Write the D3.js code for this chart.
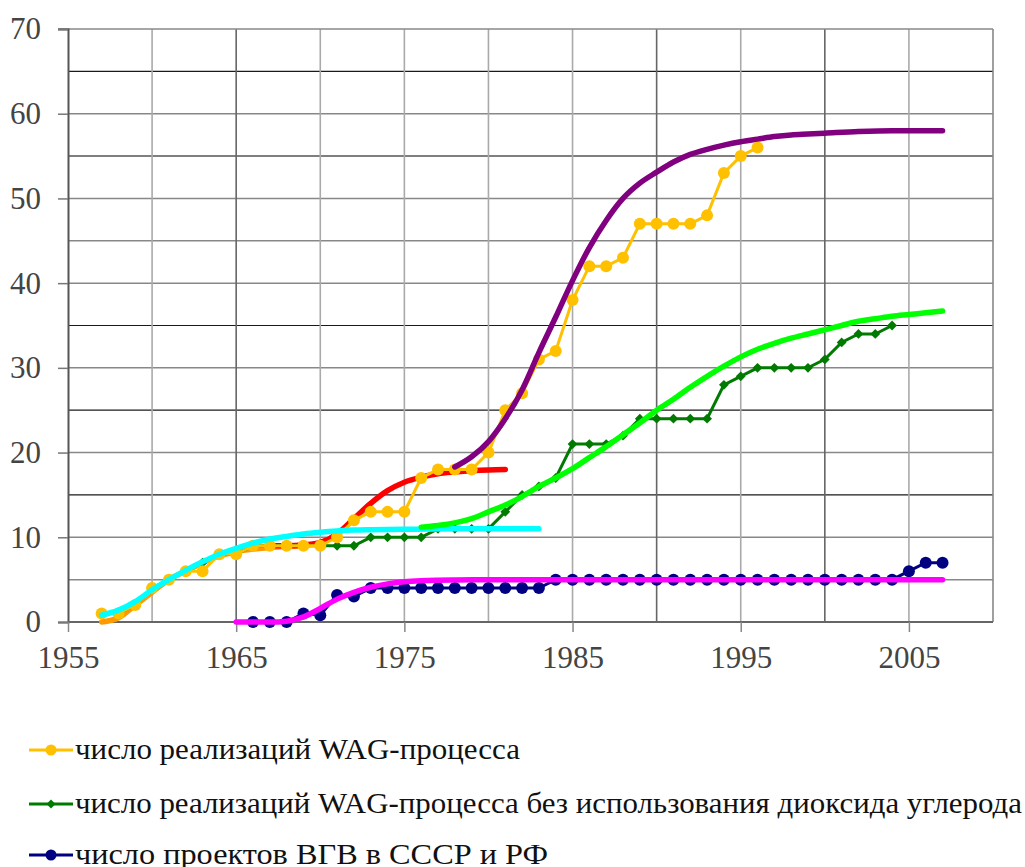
<!DOCTYPE html>
<html>
<head>
<meta charset="utf-8">
<script src="https://cdn.jsdelivr.net/npm/d3@7"></script>
<style>
  body { margin: 0; background: #fff; }
  svg text { font-family: "Liberation Serif", "Times New Roman", Times, "DejaVu Serif", "Noto Serif", serif; }
</style>
</head>
<body>
<div id="chart"></div>
<script>
// series values
const wagYears = d3.range(1957, 1997)
const wagValues = [1, 1, 2, 4, 5, 6, 6, 8, 8, 9, 9, 9, 9, 9, 10, 12, 13, 13, 13, 17,
  18, 18, 18, 20, 25, 27, 31, 32, 38, 42, 42, 43, 47, 47, 47, 47, 48, 53, 55, 56]

const noCo2Years = d3.range(1957, 2005)
const noCo2Values = [1, 1, 2, 4, 5, 6, 7, 8, 8, 9, 9, 9, 9, 9, 9, 9, 10, 10, 10, 10,
  11, 11, 11, 11, 13, 15, 16, 17, 21, 21, 21, 22, 24, 24, 24, 24, 24, 28, 29, 30,
  30, 30, 30, 31, 33, 34, 34, 35]

const vgvYears = d3.range(1966, 2008)
const vgvValues = [0, 0, 0, 1, 0.8, 3.2, 3, 4, 4, 4, 4, 4, 4, 4, 4, 4, 4, 4, 5, 5,
  5, 5, 5, 5, 5, 5, 5, 5, 5, 5, 5, 5, 5, 5, 5, 5, 5, 5, 5, 6, 7, 7]

// fitted curves (read as points, drawn smooth)
const orangeFit = [[1957, 0], [1958, 0.5], [1959, 2], [1960, 3.5], [1961, 5], [1962, 6],
  [1963, 7], [1964, 7.8], [1965, 8.3], [1966, 8.6], [1967, 8.8], [1968, 8.9], [1969, 9]]
const cyanFit = [[1957, 0.8], [1958, 1.4], [1959, 2.4], [1960, 3.8], [1961, 5], [1962, 6.1],
  [1963, 7.1], [1964, 8], [1965, 8.7], [1966, 9.3], [1967, 9.8], [1968, 10.1], [1969, 10.4],
  [1970, 10.6], [1971, 10.75], [1972, 10.85], [1973, 10.9], [1975, 10.95], [1978, 11], [1983, 11]]
const redFit = [[1967, 9], [1968, 9], [1969, 9.1], [1970, 9.4], [1971, 10.4], [1972, 12.2],
  [1973, 14], [1974, 15.5], [1975, 16.5], [1976, 17.1], [1977, 17.5], [1978, 17.7],
  [1979, 17.85], [1980, 17.95], [1981, 18]]
const purpleFit = [[1978, 18.3], [1979, 19.5], [1980, 21.3], [1981, 24], [1982, 27.4],
  [1983, 31.8], [1984, 36], [1985, 40.3], [1986, 44.2], [1987, 47.4], [1988, 50], [1989, 51.8],
  [1990, 53.1], [1991, 54.3], [1992, 55.2], [1993, 55.8], [1994, 56.3], [1995, 56.7],
  [1996, 57], [1997, 57.3], [1998, 57.5], [1999, 57.6], [2000, 57.7], [2002, 57.9],
  [2004, 58], [2007, 58]]
const greenFit = [[1976, 11.2], [1977, 11.4], [1978, 11.7], [1979, 12.2], [1980, 13],
  [1981, 13.8], [1982, 14.8], [1983, 16], [1984, 17], [1985, 18.1], [1986, 19.4], [1987, 20.7],
  [1988, 22.1], [1989, 23.5], [1990, 25], [1991, 26.3], [1992, 27.7], [1993, 29], [1994, 30.2],
  [1995, 31.3], [1996, 32.2], [1997, 32.9], [1998, 33.5], [1999, 34], [2000, 34.5], [2001, 35],
  [2002, 35.5], [2003, 35.8], [2004, 36.1], [2005, 36.3], [2006, 36.5], [2007, 36.7]]
const magentaFit = [[1965, 0], [1966, 0], [1967, 0], [1968, 0.1], [1969, 0.6], [1970, 1.6],
  [1971, 2.7], [1972, 3.5], [1973, 4.1], [1974, 4.5], [1975, 4.75], [1976, 4.88],
  [1977, 4.94], [1978, 4.97], [1980, 5], [2007, 5]]

const xTicks = [1955, 1965, 1975, 1985, 1995, 2005]
const yTicks = [0, 10, 20, 30, 40, 50, 60, 70]
const legendLabels = [
  'число реализаций WAG-процесса',
  'число реализаций WAG-процесса без использования диоксида углерода',
  'число проектов ВГВ в СССР и РФ',
]

const width = 1025
const height = 867
const serif = '"Liberation Serif", "Times New Roman", Times, "DejaVu Serif", serif'
const svg = d3.select('#chart').append('svg').attr('width', width).attr('height', height)

const x = d3.scaleLinear().domain([1955, 2010]).range([68, 993])
const y = d3.scaleLinear().domain([0, 70]).range([622, 29])

// grid
const hGrid = d3.range(5, 70, 5)
svg.append('g')
  .selectAll('line')
  .data(hGrid)
  .join('line')
  .attr('x1', x(1955))
  .attr('x2', x(2010))
  .attr('y1', (d) => y(d))
  .attr('y2', (d) => y(d))
  .attr('stroke', (d) => ([15, 25, 35, 65].includes(d) ? '#1a1a1a' : d === 55 ? '#555' : '#888'))
  .attr('stroke-width', (d) => ([15, 25, 35, 65].includes(d) ? 1.2 : 1.5))

const vGrid = d3.range(1960, 2011, 5)
svg.append('g')
  .selectAll('line')
  .data(vGrid)
  .join('line')
  .attr('x1', (d) => x(d))
  .attr('x2', (d) => x(d))
  .attr('y1', y(0))
  .attr('y2', y(70))
  .attr('stroke', (d) => ([1965, 1990, 2000].includes(d) ? '#666' : d === 2010 ? '#888' : '#aaa'))
  .attr('stroke-width', 1.6)

// top border (70 line with tick)
svg.append('line')
  .attr('x1', 58).attr('x2', x(2010))
  .attr('y1', y(70)).attr('y2', y(70))
  .attr('stroke', '#888').attr('stroke-width', 1.5)

// axes
const yAxis = svg.append('g')
  .attr('transform', `translate(${x(1955)},0)`)
  .call(d3.axisLeft(y).tickValues(yTicks).tickSize(10).tickPadding(17))
yAxis.select('.domain').attr('stroke', '#555').attr('stroke-width', 2)
yAxis.selectAll('.tick line').attr('stroke', '#777').attr('stroke-width', 1.5)
yAxis.selectAll('.tick text')
  .attr('font-size', 31)
  .attr('fill', '#444')
  .style('font-family', serif)

const xAxis = svg.append('g')
  .attr('transform', `translate(0,${y(0)})`)
  .call(d3.axisBottom(x).tickValues(xTicks).tickFormat(d3.format('d')).tickSize(10).tickPadding(14))
xAxis.select('.domain').attr('stroke', '#666').attr('stroke-width', 2).attr('d', `M${x(1955)},0H${x(2010)}`)
xAxis.selectAll('.tick line').attr('stroke', '#888').attr('stroke-width', 1.5)
xAxis.selectAll('.tick text')
  .attr('font-size', 31)
  .attr('fill', '#444')
  .style('font-family', serif)

const smooth = d3.line().x((d) => x(d[0])).y((d) => y(d[1])).curve(d3.curveMonotoneX)
const straight = d3.line().x((d) => x(d[0])).y((d) => y(d[1]))

function drawFit(data, color) {
  svg.append('path')
    .datum(data)
    .attr('d', smooth)
    .attr('fill', 'none')
    .attr('stroke', color)
    .attr('stroke-width', 5.5)
    .attr('stroke-linecap', 'round')
}

function drawSeries(years, values, color, marker) {
  const pts = years.map((yr, i) => [yr, values[i]])
  const g = svg.append('g')
  g.append('path')
    .datum(pts)
    .attr('d', straight)
    .attr('fill', 'none')
    .attr('stroke', color)
    .attr('stroke-width', 3)
  if (marker === 'circle') {
    g.selectAll('circle')
      .data(pts)
      .join('circle')
      .attr('cx', (d) => x(d[0]))
      .attr('cy', (d) => y(d[1]))
      .attr('r', 6)
      .attr('fill', color)
  } else {
    g.selectAll('path.m')
      .data(pts)
      .join('path')
      .attr('class', 'm')
      .attr('d', d3.symbol(d3.symbolSquare, 48))
      .attr('transform', (d) => `translate(${x(d[0])},${y(d[1])}) rotate(45)`)
      .attr('fill', color)
  }
}

drawFit(orangeFit, '#FF9900')
drawFit(redFit, '#FF0000')
drawSeries(noCo2Years, noCo2Values, '#007A00', 'diamond')
drawSeries(vgvYears, vgvValues, '#000080', 'circle')
drawSeries(wagYears, wagValues, '#FFC000', 'circle')
drawFit(cyanFit, '#00FFFF')
drawFit(purpleFit, '#800080')
drawFit(greenFit, '#00FF00')
drawFit(magentaFit, '#FF00FF')

// legend
const legendColors = ['#FFC000', '#007A00', '#000080']
const legendMarkers = ['circle', 'diamond', 'circle']
const legendEnds = [520, 1022, 548]
const legendY = [750, 804, 855]
legendLabels.forEach((label, i) => {
  const g = svg.append('g').attr('transform', `translate(0,${legendY[i]})`)
  g.append('line')
    .attr('x1', 29).attr('x2', 73)
    .attr('stroke', legendColors[i]).attr('stroke-width', 3)
  if (legendMarkers[i] === 'circle') {
    g.append('circle').attr('cx', 51).attr('r', 5.5).attr('fill', legendColors[i])
  } else {
    g.append('path')
      .attr('d', d3.symbol(d3.symbolSquare, 40))
      .attr('transform', 'translate(51,0) rotate(45)')
      .attr('fill', legendColors[i])
  }
  g.append('text')
    .attr('x', 75)
    .attr('y', 9)
    .attr('font-size', 29)
    .attr('fill', '#111')
    .style('font-family', serif)
    .attr('textLength', legendEnds[i] - 75)
    .attr('lengthAdjust', 'spacingAndGlyphs')
    .text(label)
})
</script>
</body>
</html>
